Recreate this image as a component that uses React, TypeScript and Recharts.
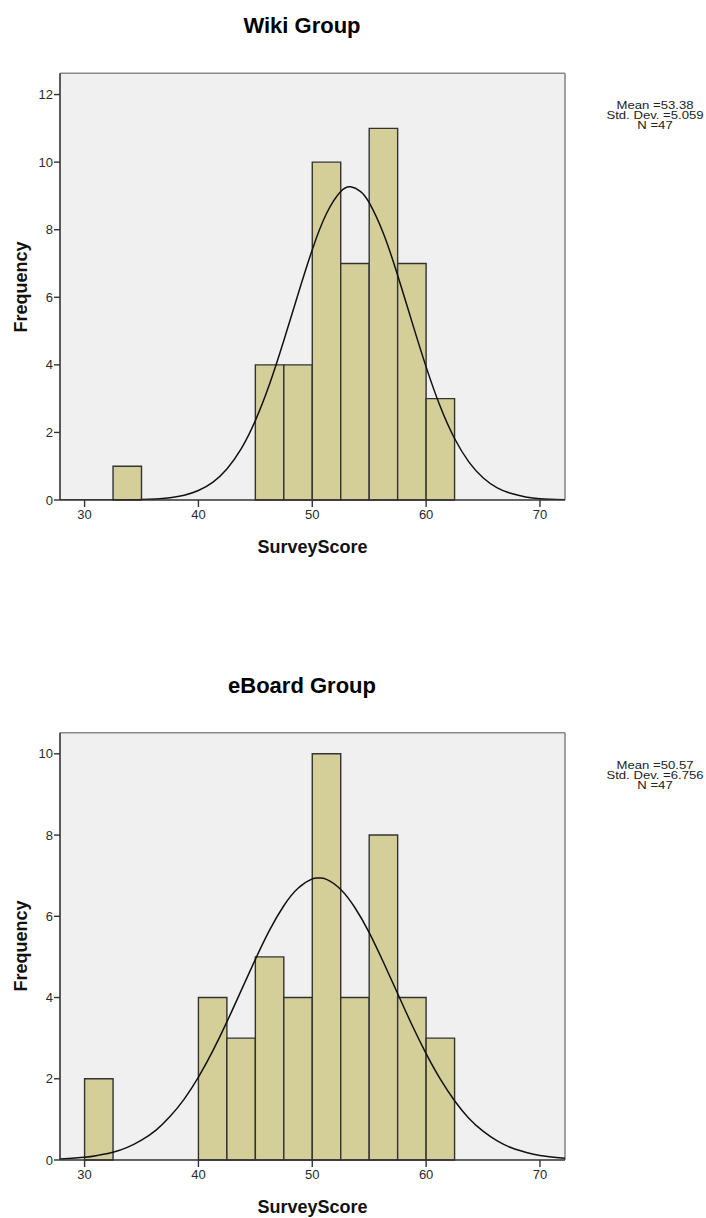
import React from 'react';
import { ComposedChart, Line, XAxis, YAxis, CartesianGrid, ReferenceArea, ReferenceLine } from 'recharts';

const BIN_WIDTH = 2.5;
const X_DOMAIN: [number, number] = [27.84, 72.2];
const X_TICKS = [30, 40, 50, 60, 70];

// Wiki Group
const wikiBinStarts = [32.5, 45, 47.5, 50, 52.5, 55, 57.5, 60];
const wikiCounts = [1, 4, 4, 10, 7, 11, 7, 3];
const wikiCurveX = [27.84, 30, 31.25, 32.5, 33.75, 35, 36.25, 37.5, 38.75, 40, 41.25, 42.5, 43.75, 45, 46.25, 47.5, 48.75, 50, 51.25, 52.5, 53.38, 54.25, 55, 56.25, 57.5, 58.75, 60, 61.25, 62.5, 63.75, 65, 66.25, 67.5, 68.75, 70, 72.2];
const wikiCurveY = [0, 0, 0, 0, 0.005, 0.013, 0.03, 0.07, 0.14, 0.28, 0.52, 0.92, 1.51, 2.35, 3.43, 4.72, 6.09, 7.41, 8.48, 9.13, 9.27, 9.13, 8.8, 7.89, 6.65, 5.28, 3.94, 2.76, 1.82, 1.13, 0.66, 0.36, 0.19, 0.09, 0.04, 0.01];
const wikiYTicks = [0, 2, 4, 6, 8, 10, 12];
const wikiYMax = 12.63;
const wikiStats = ['Mean =53.38', 'Std. Dev. =5.059', 'N =47'];

// eBoard Group
const eboardBinStarts = [30, 40, 42.5, 45, 47.5, 50, 52.5, 55, 57.5, 60];
const eboardCounts = [2, 4, 3, 5, 4, 10, 4, 8, 4, 3];
const eboardCurveX = [27.84, 30, 31.25, 32.5, 33.75, 35, 36.25, 37.5, 38.75, 40, 41.25, 42.5, 43.75, 45, 46.25, 47.5, 48.75, 50, 50.57, 51.25, 52.5, 53.75, 55, 56.25, 57.5, 58.75, 60, 61.25, 62.5, 63.75, 65, 66.25, 67.5, 68.75, 70, 72.2];
const eboardCurveY = [0.024, 0.067, 0.12, 0.19, 0.31, 0.49, 0.73, 1.07, 1.5, 2.04, 2.68, 3.4, 4.17, 4.94, 5.66, 6.26, 6.69, 6.92, 6.94, 6.91, 6.66, 6.21, 5.6, 4.87, 4.1, 3.33, 2.62, 1.99, 1.46, 1.03, 0.71, 0.47, 0.3, 0.19, 0.11, 0.04];
const eboardYTicks = [0, 2, 4, 6, 8, 10];
const eboardYMax = 10.52;
const eboardStats = ['Mean =50.57', 'Std. Dev. =6.756', 'N =47'];

const FONT = '"Liberation Sans", Arial, Helvetica, sans-serif';
const X_AXIS_H = 30;
const Y_AXIS_W = 40;

type PanelProps = {
  top: number;
  height: number;
  margin: { top: number; right: number; bottom: number; left: number };
  title: string;
  binStarts: number[];
  counts: number[];
  curveX: number[];
  curveY: number[];
  yTicks: number[];
  yMax: number;
  stats: string[];
};

function Panel(p: PanelProps) {
  const data = p.curveX.map((x, i) => ({ x, y: p.curveY[i] }));
  const plotTop = p.margin.top;
  const plotBottom = p.height - p.margin.bottom - X_AXIS_H;
  const plotLeft = p.margin.left + Y_AXIS_W;
  const plotRight = 706 - p.margin.right;
  const plotCx = (plotLeft + plotRight) / 2;
  const tickStyle = { fontSize: 13, fill: '#2a2a2a', fontFamily: FONT };
  return (
    <div style={{ position: 'absolute', left: 0, top: p.top, width: 706, height: p.height }}>
      <ComposedChart width={706} height={p.height} data={data} margin={p.margin}>
        <CartesianGrid fill="#f0f0f0" stroke="none" horizontal={false} vertical={false} />
        <XAxis
          dataKey="x"
          type="number"
          domain={X_DOMAIN}
          allowDataOverflow
          ticks={X_TICKS}
          height={X_AXIS_H}
          tickSize={7}
          tickMargin={3}
          tick={tickStyle}
          axisLine={{ stroke: '#333', strokeWidth: 1.6 }}
          tickLine={{ stroke: '#333', strokeWidth: 1.4 }}
        />
        <YAxis
          type="number"
          domain={[0, p.yMax]}
          allowDataOverflow
          ticks={p.yTicks}
          width={Y_AXIS_W}
          tickSize={6}
          tickMargin={1}
          tick={tickStyle}
          axisLine={{ stroke: '#333', strokeWidth: 1.6 }}
          tickLine={{ stroke: '#333', strokeWidth: 1.4 }}
        />
        <ReferenceLine y={p.yMax} stroke="#8a8a8a" strokeWidth={1.6} />
        <ReferenceLine x={X_DOMAIN[1]} stroke="#8a8a8a" strokeWidth={1.6} />
        {p.binStarts.map((s, i) => (
          <ReferenceArea
            key={i}
            x1={s}
            x2={s + BIN_WIDTH}
            y1={0}
            y2={p.counts[i]}
            fill="#d4cf99"
            fillOpacity={1}
            stroke="#333"
            strokeWidth={1.4}
            strokeOpacity={1}
          />
        ))}
        <Line
          dataKey="y"
          type="natural"
          stroke="#111"
          strokeWidth={1.5}
          dot={false}
          activeDot={false}
          isAnimationActive={false}
        />
      </ComposedChart>
      <div
        style={{
          position: 'absolute', left: 302 - 200, width: 400, top: plotTop - 47 - 13, height: 26,
          lineHeight: '26px', textAlign: 'center', fontFamily: FONT, fontWeight: 'bold', fontSize: 22, color: '#000',
        }}
      >
        {p.title}
      </div>
      <div
        style={{
          position: 'absolute', left: plotCx - 200, width: 400, top: plotBottom + 47 - 11, height: 22,
          lineHeight: '22px', textAlign: 'center', fontFamily: FONT, fontWeight: 'bold', fontSize: 18, color: '#111',
        }}
      >
        SurveyScore
      </div>
      <div
        style={{
          position: 'absolute', left: 21 - 100, width: 200, top: (plotTop + plotBottom) / 2 - 11, height: 22,
          lineHeight: '22px', textAlign: 'center', fontFamily: FONT, fontWeight: 'bold', fontSize: 18, color: '#111',
          transform: 'rotate(-90deg)', transformOrigin: '50% 50%',
        }}
      >
        Frequency
      </div>
      <div
        style={{
          position: 'absolute', left: 655 - 60, width: 120, top: plotTop + 32 - 5,
          lineHeight: '10px', textAlign: 'center', fontFamily: FONT, fontSize: 10.5, color: '#222',
          transform: 'scaleX(1.25)', transformOrigin: '50% 0%', whiteSpace: 'nowrap',
        }}
      >
        {p.stats.map((s, i) => (
          <div key={i} style={{ height: 10, lineHeight: '10px' }}>{s}</div>
        ))}
      </div>
    </div>
  );
}

export default function App() {
  return (
    <div style={{ position: 'absolute', left: 0, top: 0, width: 706, height: 1218, background: '#fff', overflow: 'hidden' }}>
      <Panel
        top={0}
        height={600}
        margin={{ top: 73.3, right: 141, bottom: 70, left: 20 }}
        title="Wiki Group"
        binStarts={wikiBinStarts}
        counts={wikiCounts}
        curveX={wikiCurveX}
        curveY={wikiCurveY}
        yTicks={wikiYTicks}
        yMax={wikiYMax}
        stats={wikiStats}
      />
      <Panel
        top={618}
        height={600}
        margin={{ top: 114.7, right: 141, bottom: 28, left: 20 }}
        title="eBoard Group"
        binStarts={eboardBinStarts}
        counts={eboardCounts}
        curveX={eboardCurveX}
        curveY={eboardCurveY}
        yTicks={eboardYTicks}
        yMax={eboardYMax}
        stats={eboardStats}
      />
    </div>
  );
}
